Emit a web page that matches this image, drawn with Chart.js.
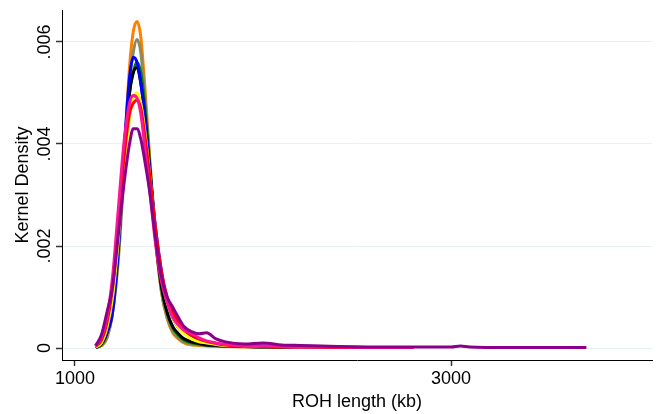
<!DOCTYPE html>
<html>
<head>
<meta charset="utf-8">
<script src="https://cdn.jsdelivr.net/npm/chart.js@4.4.1/dist/chart.umd.min.js"></script>
<style>
  body { margin: 0; background: #fff; }
</style>
</head>
<body>
<canvas id="rohChart" width="660" height="414"></canvas>
<script>
// =============================
// Kernel density of ROH length, one curve per group
// =============================
const roh = [1110, 1140, 1170, 1200, 1230, 1260, 1290, 1310, 1330, 1350, 1370, 1400, 1430, 1460, 1490,
  1520, 1550, 1580, 1620, 1660, 1700, 1750, 1800, 1900, 2000, 2100, 2200, 2400, 2600, 2800,
  3000, 3050, 3100, 3300, 3500, 3720];

const xTicks = [1000, 3000];
const yTicks = [0, 0.002, 0.004, 0.006];

const densOrange = [null, 0.00003, 0.0002, 0.0007, 0.0018, 0.0036, 0.0055, 0.0062, 0.0064, 0.0061, 0.0052, 0.0036, 0.0021, 0.0011, 0.00058,
  0.0003, 0.00018, 0.0001, 0.00006, 0.00005, 0.00004, 0.00003, 0.00003, 0.00002, 0.00002, 0.00002, 0.00001, 0.00001, 0.00001];
const densOlive = [0.00001, 0.00005, 0.0002, 0.0007, 0.0017, 0.0034, 0.0052, 0.0058, 0.00605, 0.0058, 0.005, 0.0035, 0.0021, 0.0011, 0.0006,
  0.00033, 0.0002, 0.00012, 0.00008, 0.00006, 0.00005, 0.00004, 0.00003, 0.00003, 0.00002, 0.00002, 0.00002, 0.00001, 0.00001];
const densGreen = [0.00001, 0.00006, 0.0003, 0.0008, 0.0019, 0.0036, 0.005, 0.0054, 0.0056, 0.0054, 0.0048, 0.0035, 0.0022, 0.0012, 0.0007,
  0.0004, 0.00025, 0.00016, 0.0001, 0.00008, 0.00006, 0.00005, 0.00004, 0.00003, 0.00003, 0.00002, 0.00002, 0.00001, 0.00001, 0.00001];
const densBlack = [0.00001, 0.00008, 0.0003, 0.0009, 0.0021, 0.0038, 0.005, 0.0054, 0.0055, 0.0052, 0.0046, 0.0034, 0.0021, 0.0012, 0.0007,
  0.00042, 0.00028, 0.00018, 0.00012, 0.00009, 0.00006, 0.00005, 0.00004, 0.00003, 0.00002, 0.00002, 0.00002, 0.00001, 0.00001];
const densBlue = [0.00002, 0.0001, 0.0003, 0.0007, 0.0019, 0.0038, 0.0053, 0.0057, 0.0056, 0.0052, 0.0046, 0.0034, 0.0023, 0.0015, 0.0009,
  0.0006, 0.0004, 0.0003, 0.0002, 0.00015, 0.00012, 0.00008, 0.00006, 0.00004, 0.00004, 0.00003, 0.00002, 0.00002, 0.00001, 0.00001];
const densYellow = [0.00002, 0.0001, 0.0004, 0.001, 0.0021, 0.0035, 0.0045, 0.0049, 0.005, 0.0048, 0.0043, 0.0033, 0.0022, 0.0014, 0.0009,
  0.0006, 0.0004, 0.00028, 0.00018, 0.00012, 0.0001, 0.00007, 0.00005, 0.00004, 0.00003, 0.00003, 0.00002, 0.00002, 0.00001, 0.00001];
const densRed = [0.00003, 0.00015, 0.0005, 0.0012, 0.0024, 0.0037, 0.0046, 0.0048, 0.00486, 0.0047, 0.0042, 0.0033, 0.0023, 0.0015, 0.001,
  0.0007, 0.0005, 0.00036, 0.00025, 0.00018, 0.00013, 0.00009, 0.00006, 0.00004, 0.00003, 0.00002, 0.00002, 0.00001, 0.00001];
const densPink = [0.00004, 0.0002, 0.0006, 0.0014, 0.0027, 0.004, 0.0048, 0.00495, 0.0049, 0.0046, 0.004, 0.003, 0.002, 0.0013, 0.0009,
  0.0006, 0.00045, 0.00035, 0.00028, 0.0002, 0.00014, 0.0001, 0.00007, 0.00005, 0.00004, 0.00003, 0.00002, 0.00002, 0.00001, 0.00001];
const densPurple = [0.00005, 0.00025, 0.0007, 0.0012, 0.0022, 0.0032, 0.004, 0.0043, 0.0043, 0.0041, 0.0037, 0.003, 0.0021, 0.0014, 0.001,
  0.0008, 0.0006, 0.00042, 0.00032, 0.00028, 0.0003, 0.00018, 0.00012, 0.00008, 0.0001, 0.00006, 0.00005, 0.00003, 0.00002, 0.00002,
  0.00002, 0.00004, 0.00002, 0.00001, 0.00001, 0.00001];

// first entry is drawn on top
const curves = [
  { data: densPurple, color: '#8b008b' },
  { data: densPink, color: '#ff1493' },
  { data: densRed, color: '#ff0000' },
  { data: densYellow, color: '#ffff00' },
  { data: densBlue, color: '#0000ff' },
  { data: densBlack, color: '#000000' },
  { data: densGreen, color: '#008000' },
  { data: densOlive, color: '#8c8a5a' },
  { data: densOrange, color: '#ff8000' }
];

const fontFam = '"Liberation Sans", Arial, sans-serif';

const ctx = document.getElementById('rohChart');
new Chart(ctx, {
  type: 'line',
  data: {
    datasets: curves.map(c => ({
      data: c.data.map((v, i) => ({ x: roh[i], y: v })).filter(p => p.y !== null && p.y !== undefined),
      borderColor: c.color,
      borderWidth: 3,
      pointRadius: 0,
      fill: false,
      cubicInterpolationMode: 'monotone'
    }))
  },
  options: {
    responsive: false,
    animation: false,
    layout: { padding: { top: 10, right: 8, left: 0, bottom: 0 } },
    plugins: {
      legend: { display: false },
      tooltip: { enabled: false }
    },
    scales: {
      x: {
        type: 'linear',
        min: 931,
        max: 4069,
        afterBuildTicks: s => { s.ticks = xTicks.map(v => ({ value: v })); },
        afterFit: s => { s.height = 54; },
        grid: { drawOnChartArea: false, tickLength: 6, tickColor: '#333', tickWidth: 1.5 },
        border: { color: '#000', width: 1 },
        ticks: {
          color: '#000',
          font: { family: fontFam, size: 18 },
          padding: 2,
          maxRotation: 0,
          callback: v => String(v)
        },
        title: { display: true, text: 'ROH length (kb)', color: '#000', font: { family: fontFam, size: 18 }, padding: { top: 0, bottom: 1 } }
      },
      y: {
        min: -0.000235,
        max: 0.006627,
        afterBuildTicks: s => { s.ticks = yTicks.map(v => ({ value: v })); },
        afterFit: s => { s.width = 62; },
        grid: { color: '#e8f0f2', lineWidth: 1, tickLength: 6, tickColor: '#333', tickWidth: 1.5 },
        border: { color: '#000', width: 1 },
        ticks: {
          color: '#000',
          font: { family: fontFam, size: 18 },
          minRotation: 90,
          maxRotation: 90,
          crossAlign: 'center',
          padding: -7,
          callback: v => (v === 0 ? '0' : v.toFixed(3).replace(/^0/, ''))
        },
        title: { display: true, text: 'Kernel Density', color: '#000', font: { family: fontFam, size: 18 }, padding: { top: 12, bottom: 0 } }
      }
    }
  }
});
</script>
</body>
</html>
